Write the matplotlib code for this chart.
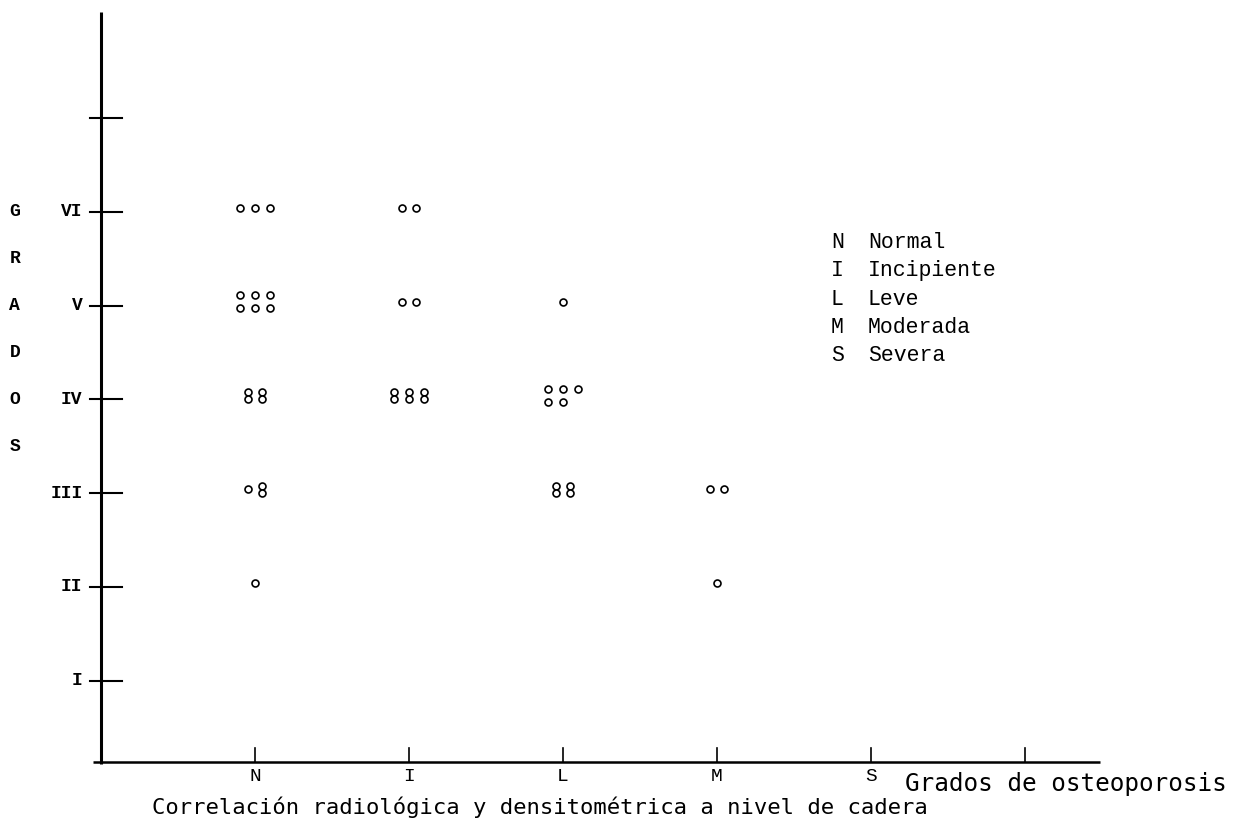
import matplotlib
matplotlib.use("Agg")
import matplotlib.pyplot as plt

# categories on the x axis (typewriter letters) and grades on the y axis
categories = ["N", "I", "L", "M", "S", ""]
grades = ["I", "II", "III", "IV", "V", "VI", ""]
grados_letters = ["G", "R", "A", "D", "O", "S"]

legend_keys = ["N", "I", "L", "M", "S"]
legend_names = ["Normal", "Incipiente", "Leve", "Moderada", "Severa"]

# each cell: (category, grade, rows of typed marks); 'o' = one case, '8' = two stacked cases
cells = [
    ("N", "VI", ["ooo"]),
    ("N", "V", ["ooo", "ooo"]),
    ("N", "IV", ["88"]),
    ("N", "III", ["o8"]),
    ("N", "II", ["o"]),
    ("I", "VI", ["oo"]),
    ("I", "V", ["oo"]),
    ("I", "IV", ["888"]),
    ("L", "V", ["o"]),
    ("L", "IV", ["ooo", "oo"]),
    ("L", "III", ["88"]),
    ("M", "III", ["oo"]),
    ("M", "II", ["o"]),
]

x_title = "Grados de osteoporosis"
caption = "Correlación radiológica y densitométrica a nivel de cadera"

fig = plt.figure(figsize=(12.46, 8.27), dpi=100)
ax = fig.add_axes([0, 0, 1, 1])
ax.set_xlim(-0.656, 7.435)
ax.set_ylim(-0.559, 8.258)
ax.axis("off")

xpos = {c: i + 1 for i, c in enumerate(categories)}
ypos = {g: i + 1 for i, g in enumerate(grades)}
x_axis_y = 0.134

# axes lines
ax.plot([0, 0], [x_axis_y - 0.02, 8.13], color="black", lw=2.2, solid_capstyle="butt")
ax.plot([-0.052, 6.49], [x_axis_y, x_axis_y], color="black", lw=1.8, solid_capstyle="butt")

# y ticks crossing the axis
for g in grades:
    ax.plot([-0.071, 0.136], [ypos[g], ypos[g]], color="black", lw=1.5)
    if g:
        ax.text(-0.12, ypos[g], g, ha="right", va="center", fontsize=13,
                family="Liberation Mono", fontweight="bold")

# G R A D O S down the left side
for i, ch in enumerate(grados_letters):
    ax.text(-0.56, 6 - 0.5 * i, ch, ha="center", va="center", fontsize=13,
            family="Liberation Mono", fontweight="bold")

# x ticks above the axis
for c in categories:
    ax.plot([xpos[c], xpos[c]], [x_axis_y, 0.284], color="black", lw=1.2)
    if c:
        ax.text(xpos[c], -0.02, c, ha="center", va="center", fontsize=14,
                family="Liberation Mono")

ax.text(5.22, -0.10, x_title, ha="left", va="center", fontsize=17.5,
        family="DejaVu Sans Mono")
ax.text(2.85, -0.35, caption, ha="center", va="center", fontsize=16,
        family="DejaVu Sans Mono")

# legend block
for i, (k, name) in enumerate(zip(legend_keys, legend_names)):
    y = 5.67 - 0.30 * i
    ax.text(4.74, y, k, ha="left", va="center", fontsize=15.5, family="Liberation Mono")
    ax.text(4.98, y, name, ha="left", va="center", fontsize=15.5, family="Liberation Mono")

# typed marks
dx, dy, stack = 0.097, 0.139, 0.041
xs, ys = [], []
for cat, grade, rows in cells:
    width = max(len(r) for r in rows)
    x0 = xpos[cat] - (width - 1) / 2 * dx
    y0 = ypos[grade] + 0.04 + (len(rows) - 1) / 2 * dy
    for r, row in enumerate(rows):
        for j, ch in enumerate(row):
            x = x0 + j * dx
            y = y0 - r * dy
            if ch == "8":
                xs += [x, x]
                ys += [y + stack, y - stack]
            else:
                xs.append(x)
                ys.append(y)

ax.plot(xs, ys, linestyle="none", marker="o", markersize=5.0,
        markerfacecolor="white", markeredgecolor="black", markeredgewidth=1.2)

fig.savefig("out.png", dpi=100)
